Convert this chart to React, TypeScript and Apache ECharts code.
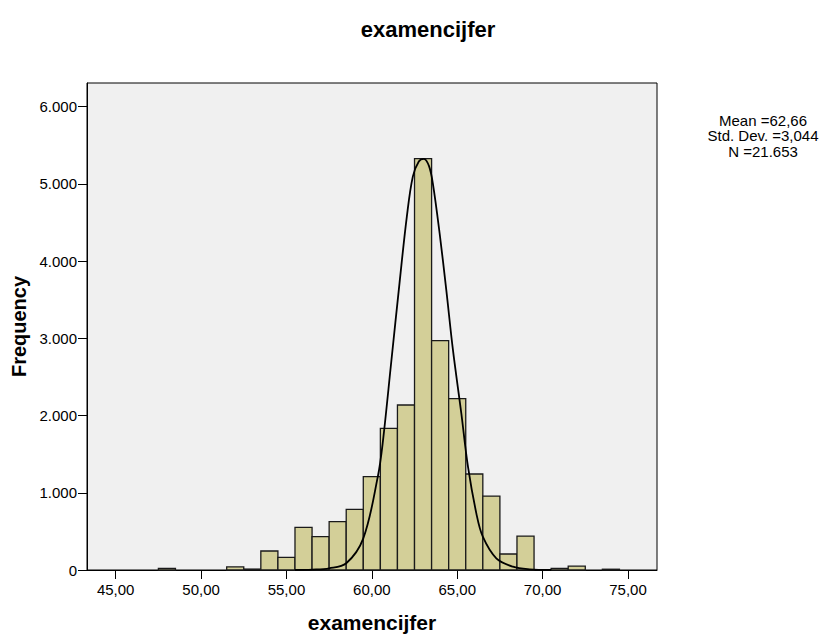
import React, { useEffect, useRef } from "react";
import * as echarts from "echarts";

const titleText = "examencijfer";
const xAxisName = "examencijfer";
const yAxisName = "Frequency";
const statsLines = ["Mean =62,66", "Std. Dev. =3,044", "N =21.653"];

// histogram bins (centre of each 1-wide bin) and counts
const binCenters = [48, 52, 53, 54, 55, 56, 57, 58, 59, 60, 61, 62, 63, 64, 65, 66, 67, 68, 69, 71, 72, 74];
const binCounts = [20, 40, 12, 246, 164, 553, 432, 626, 786, 1209, 1835, 2137, 5328, 2970, 2219, 1243, 958, 207, 440, 20, 50, 10];

// normal curve
const curveX = [55.5, 56.5, 57.5, 58.5, 59.5, 60.35, 60.64, 61.14, 61.62, 62.05, 62.4, 62.75, 63.05, 63.35, 63.57, 63.97, 64.36, 64.75, 65.24, 65.63, 66.12, 66.5, 67.29, 68.26, 69.24, 70.5];
const curveY = [0, 5, 22, 87, 410, 1209, 1650, 2700, 3713, 4577, 5095, 5290, 5325, 5230, 5009, 4361, 3627, 2850, 2030, 1338, 734, 431, 151, 43, 9, 0];

const xTicks = [45, 50, 55, 60, 65, 70, 75];

export default function App() {
  const ref = useRef<HTMLDivElement>(null);
  useEffect(() => {
    document.body.style.margin = "0";
    const chart = echarts.init(ref.current!, null, { renderer: "svg" });
    const font = "'Liberation Sans', Arial, sans-serif";
    const bars = binCenters.map((c, i) => [c, binCounts[i]]);
    const curve = curveX.map((x, i) => [x, curveY[i]]);
    chart.setOption({
      animation: false,
      backgroundColor: "#fff",
      textStyle: { fontFamily: font },
      grid: {
        left: 87,
        right: 168,
        top: 83,
        bottom: 72,
        show: true,
        backgroundColor: "#F0F0F0",
        borderColor: "#000",
        borderWidth: 1,
      },
      xAxis: {
        type: "value",
        min: 43.32,
        max: 76.7,
        name: xAxisName,
        nameLocation: "middle",
        nameGap: 42,
        nameTextStyle: { fontSize: 21, fontWeight: "bold", color: "#000", fontFamily: font },
        splitLine: { show: false },
        axisLine: { show: true, onZero: false, lineStyle: { color: "#000", width: 1 } },
        axisTick: { show: true, length: 9, customValues: xTicks, lineStyle: { color: "#000", width: 1 } },
        axisLabel: {
          customValues: xTicks,
          color: "#000",
          fontSize: 15,
          margin: 12,
          fontFamily: font,
          formatter: (v: number) => v.toFixed(2).replace(".", ","),
        },
      },
      yAxis: {
        type: "value",
        min: 0,
        max: 6307,
        interval: 1000,
        name: yAxisName,
        nameLocation: "middle",
        nameGap: 58,
        nameTextStyle: { fontSize: 20, fontWeight: "bold", color: "#000", fontFamily: font },
        splitLine: { show: false },
        axisLine: { show: true, lineStyle: { color: "#000", width: 1 } },
        axisTick: { show: true, length: 9, lineStyle: { color: "#000", width: 1 } },
        axisLabel: {
          color: "#000",
          fontSize: 15,
          margin: 10,
          fontFamily: font,
          showMaxLabel: false,
          formatter: (v: number) => (v >= 1000 ? Math.floor(v / 1000) + "." + String(v % 1000).padStart(3, "0") : String(v)),
        },
      },
      graphic: [
        {
          type: "text",
          x: 428,
          y: 29,
          style: {
            text: titleText,
            fontSize: 22,
            fontWeight: "bold",
            fill: "#000",
            fontFamily: font,
            align: "center",
            verticalAlign: "middle",
          },
        },
        ...statsLines.map((t, i) => ({
          type: "text",
          x: 763,
          y: 120 + i * 15.5,
          style: {
            text: t,
            fontSize: 15,
            fill: "#000",
            fontFamily: font,
            align: "center",
            verticalAlign: "middle",
          },
        })),
      ],
      series: [
        {
          type: "custom",
          data: bars,
          renderItem: (params: any, api: any) => {
            const c = api.value(0);
            const v = api.value(1);
            const p1 = api.coord([c - 0.5, v]);
            const p2 = api.coord([c + 0.5, 0]);
            return {
              type: "rect",
              shape: { x: p1[0], y: p1[1], width: p2[0] - p1[0], height: p2[1] - p1[1] },
              style: { fill: "#D3CF98", stroke: "#1a1a1a", lineWidth: 1.3 },
            };
          },
          z: 2,
        },
        {
          type: "line",
          data: curve,
          smooth: 0.35,
          showSymbol: false,
          lineStyle: { color: "#000", width: 1.8 },
          z: 3,
        },
      ],
    });
    return () => chart.dispose();
  }, []);
  return <div ref={ref} style={{ width: 825, height: 642 }} />;
}
